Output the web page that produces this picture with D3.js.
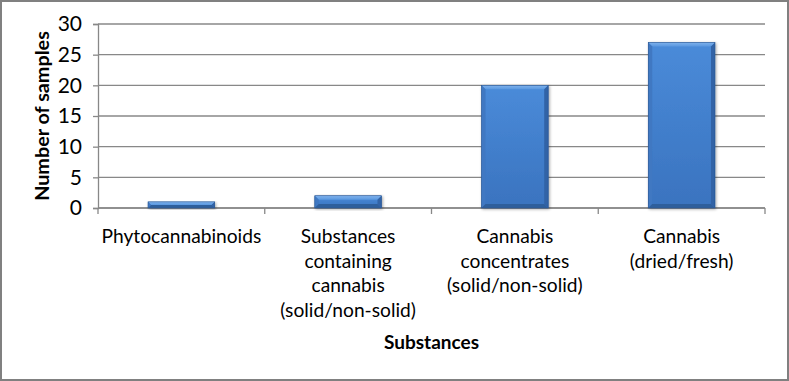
<!DOCTYPE html>
<html><head><meta charset="utf-8">
<script src="https://cdn.jsdelivr.net/npm/d3@7"></script>
<style>
html,body{margin:0;padding:0;background:#fff;}
svg{display:block;font-family:Lato,"Open Sans",sans-serif;}
</style></head>
<body><svg id="c" width="789" height="381"></svg>
<script>
const categories = [
  ["Phytocannabinoids"],
  ["Substances","containing","cannabis","(solid/non-solid)"],
  ["Cannabis","concentrates","(solid/non-solid)"],
  ["Cannabis","(dried/fresh)"]
];
const values = [1, 2, 20, 27];
const yTicks = [0, 5, 10, 15, 20, 25, 30];
const yTitle = "Number of samples";
const xTitle = "Substances";

const svg = d3.select("#c");
const W = 789, H = 381;
const m = {l: 98, r: 24, t: 24, b: 173};

svg.append("rect").attr("x",1).attr("y",1).attr("width",W-2).attr("height",H-2)
  .attr("fill","#fff").attr("stroke","#808080").attr("stroke-width",2);

const x = d3.scaleBand().domain(d3.range(categories.length))
  .range([m.l, W - m.r]).paddingInner(0.6).paddingOuter(0.3);
const xb = d3.scaleBand().domain(d3.range(categories.length)).range([m.l, W - m.r]);
const y = d3.scaleLinear().domain([0, 30]).range([H - m.b, m.t]);

const defs = svg.append("defs");
const gFace = defs.append("linearGradient").attr("id","face").attr("x1",0).attr("y1",0).attr("x2",0).attr("y2",1);
gFace.append("stop").attr("offset","0%").attr("stop-color","#4a8bd9");
gFace.append("stop").attr("offset","100%").attr("stop-color","#3a73bf");
const gTop = defs.append("linearGradient").attr("id","top").attr("x1",0).attr("y1",0).attr("x2",0).attr("y2",1);
gTop.append("stop").attr("offset","0%").attr("stop-color","#7fb2ec");
gTop.append("stop").attr("offset","100%").attr("stop-color","#5a98e0");
const flt = defs.append("filter").attr("id","sh").attr("x","-20%").attr("y","-20%").attr("width","140%").attr("height","140%");
flt.append("feGaussianBlur").attr("in","SourceAlpha").attr("stdDeviation",1.5);
flt.append("feOffset").attr("dx",1).attr("dy",1).attr("result","o");
flt.append("feComponentTransfer").append("feFuncA").attr("type","linear").attr("slope",0.35);
const mg = flt.append("feMerge"); mg.append("feMergeNode"); mg.append("feMergeNode").attr("in","SourceGraphic");

// gridlines
svg.append("g").selectAll("line").data(yTicks).join("line")
  .attr("x1", m.l).attr("x2", W - m.r)
  .attr("y1", d => y(d)).attr("y2", d => y(d))
  .attr("stroke", "#888").attr("stroke-width", 1.3);

// y axis
const ya = svg.append("g").attr("transform", `translate(${m.l},0)`)
  .call(d3.axisLeft(y).tickValues(yTicks).tickSize(5).tickPadding(11));
ya.select(".domain").attr("stroke","#888").attr("stroke-width",1.3);
ya.selectAll(".tick line").attr("stroke","#888").attr("stroke-width",1.3);
ya.selectAll(".tick text").attr("font-size",21).attr("fill","#000").attr("font-family","Lato");

// x axis
const xa = svg.append("g").attr("transform", `translate(0,${y(0)})`);
xa.append("line").attr("x1", m.l).attr("x2", W - m.r).attr("stroke","#888").attr("stroke-width",1.3);
const bounds = d3.range(categories.length + 1).map(i => i < categories.length ? xb(i) : xb(i-1) + xb.bandwidth());
xa.selectAll("line.t").data(bounds).join("line").attr("class","t")
  .attr("x1", d => d).attr("x2", d => d).attr("y1", 0).attr("y2", 6)
  .attr("stroke","#888").attr("stroke-width",1.3);

const lab = svg.append("g");
categories.forEach((lines, i) => {
  const t = lab.append("text").attr("text-anchor","middle").attr("font-size",19.2).attr("fill","#000");
  lines.forEach((s, j) => {
    t.append("tspan").attr("x", xb(i) + xb.bandwidth()/2).attr("y", y(0) + 35 + j*24.5).text(s);
  });
});

// bars
const bev = 4;
const bars = svg.append("g").selectAll("g").data(values).join("g").attr("filter","url(#sh)");
bars.each(function(v, i){
  const g = d3.select(this);
  const x0 = x(i), x1 = x(i) + x.bandwidth(), y0 = y(v), y1 = y(0);
  const b = Math.min(bev, (y1 - y0)/2);
  g.append("rect").attr("x", x0).attr("y", y0).attr("width", x1-x0).attr("height", y1-y0).attr("fill","url(#face)");
  g.append("polygon").attr("points", [[x0,y0],[x1,y0],[x1-b,y0+b],[x0+b,y0+b]].join(" ")).attr("fill","url(#top)");
  g.append("polygon").attr("points", [[x0,y0],[x0+b,y0+b],[x0+b,y1-b],[x0,y1]].join(" ")).attr("fill","#3f78c2");
  g.append("polygon").attr("points", [[x1,y0],[x1-b,y0+b],[x1-b,y1-b],[x1,y1]].join(" ")).attr("fill","#3063a6");
  g.append("polygon").attr("points", [[x0,y1],[x0+b,y1-b],[x1-b,y1-b],[x1,y1]].join(" ")).attr("fill","#2f5e9c");
  g.append("rect").attr("x", x0).attr("y", y0).attr("width", x1-x0).attr("height", y1-y0)
    .attr("fill","none").attr("stroke","#2a5590").attr("stroke-width",0.6);
});

// titles
svg.append("text").attr("transform", `translate(49,${(y(0)+y(30))/2}) rotate(-90)`)
  .attr("text-anchor","middle").attr("font-size",19.8).attr("font-weight","bold").text(yTitle);
svg.append("text").attr("x", (m.l + W - m.r)/2).attr("y", 349)
  .attr("text-anchor","middle").attr("font-size",19).attr("font-weight","bold").text(xTitle);
</script></body></html>
